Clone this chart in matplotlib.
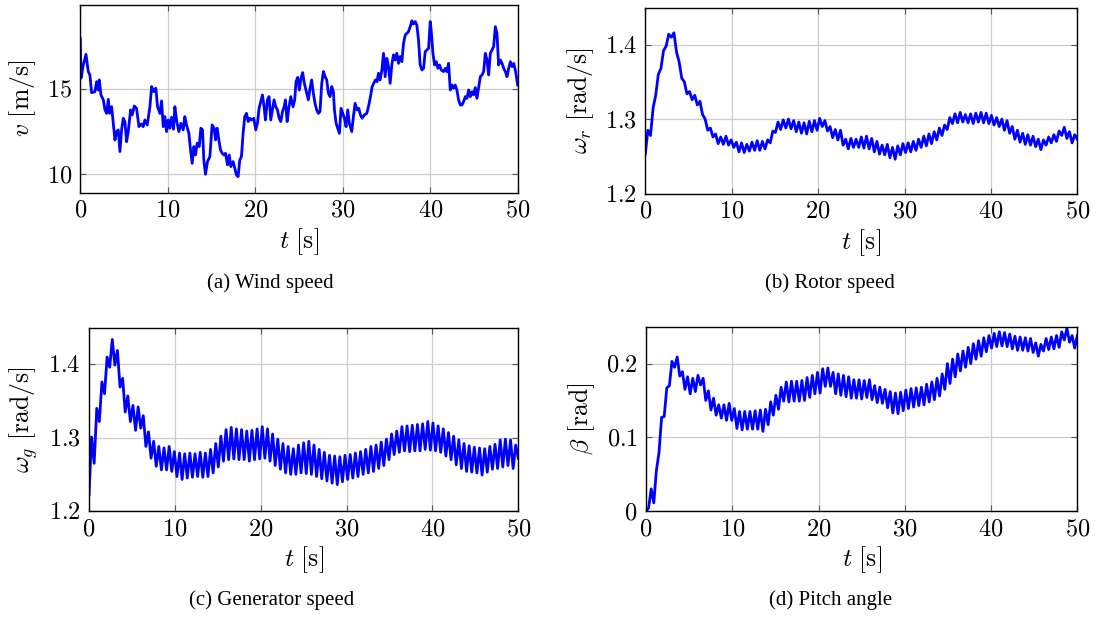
import numpy as np
import matplotlib
matplotlib.use('Agg')
import matplotlib.pyplot as plt
from matplotlib.ticker import FuncFormatter

plt.rcParams['mathtext.fontset'] = 'cm'
plt.rcParams['font.family'] = ['Liberation Serif', 'DejaVu Serif']

# ---- data ----
# wind speed (irregular time samples)
wind_t = [0, 0.08, 0.34, 0.65, 0.91, 1.10, 1.29, 1.67, 1.87, 2.06,
          2.17, 2.36, 2.63, 2.82, 3.01, 3.20, 3.35, 3.58, 3.77, 3.96,
          4.15, 4.34, 4.53, 4.72, 4.91, 5.10, 5.29, 5.48, 5.75, 5.94,
          6.17, 6.43, 6.70, 7.00, 7.19, 7.38, 7.65, 7.96, 8.15, 8.41,
          8.64, 8.83, 9.10, 9.29, 9.48, 9.67, 9.86, 10.05, 10.24, 10.43,
          10.66, 10.81, 11.00, 11.27, 11.50, 11.76, 11.95, 12.14, 12.41, 12.60,
          12.79, 12.98, 13.17, 13.36, 13.59, 13.78, 13.97, 14.12, 14.31, 14.54,
          14.81, 15.07, 15.30, 15.46, 15.65, 15.84, 16.03, 16.22, 16.41, 16.60,
          16.83, 17.02, 17.21, 17.47, 17.66, 17.85, 18.04, 18.23, 18.42, 18.61,
          18.80, 19.00, 19.19, 19.38, 19.57, 19.83, 20.06, 20.25, 20.44, 20.63,
          20.82, 21.01, 21.16, 21.39, 21.58, 21.77, 21.96, 22.15, 22.34, 22.54,
          22.73, 22.92, 23.11, 23.30, 23.45, 23.64, 23.83, 24.06, 24.32, 24.51,
          24.66, 24.85, 25.04, 25.23, 25.42, 25.61, 25.80, 26.07, 26.26, 26.45,
          26.64, 26.83, 27.02, 27.21, 27.40, 27.60, 27.79, 27.98, 28.17, 28.36,
          28.55, 28.74, 28.93, 29.05, 29.24, 29.43, 29.62, 29.81, 30.00, 30.19,
          30.38, 30.57, 30.76, 31.03, 31.22, 31.41, 31.64, 31.83, 32.02, 32.21,
          32.48, 32.75, 32.94, 33.17, 33.36, 33.55, 33.74, 33.93, 34.08, 34.27,
          34.47, 34.66, 34.85, 35.04, 35.23, 35.42, 35.61, 35.80, 35.99, 36.18,
          36.37, 36.56, 36.76, 36.95, 37.14, 37.33, 37.52, 37.71, 37.90, 38.09,
          38.28, 38.47, 38.66, 38.85, 39.05, 39.24, 39.43, 39.62, 39.81, 40.00,
          40.11, 40.31, 40.50, 40.69, 40.88, 41.07, 41.26, 41.53, 41.72, 41.91,
          42.10, 42.29, 42.48, 42.67, 42.86, 43.05, 43.24, 43.44, 43.63, 43.82,
          44.01, 44.20, 44.39, 44.58, 44.77, 44.96, 45.15, 45.34, 45.53, 45.73,
          45.92, 46.11, 46.30, 46.49, 46.68, 46.87, 47.06, 47.25, 47.44, 47.63,
          47.82, 48.02, 48.21, 48.40, 48.59, 48.78, 48.97, 49.16, 49.35, 49.54,
          49.73, 50.0]
wind_v = [17.97, 15.63, 16.4, 17.03, 16.02, 15.82, 14.78, 14.84, 15.43, 14.94,
          15.53, 14.65, 14.36, 13.77, 13.57, 14.39, 13.57, 13.96, 12.99, 12.01,
          12.5, 12.6, 11.33, 12.6, 13.28, 13.09, 11.91, 12.5, 13.77, 13.48,
          14.0, 13.87, 12.79, 12.95, 12.79, 13.18, 12.89, 13.96, 15.14, 14.84,
          15.04, 13.96, 13.57, 14.3, 12.79, 13.38, 12.5, 13.18, 12.7, 13.34,
          12.64, 13.96, 13.18, 12.5, 12.99, 12.6, 13.38, 12.89, 12.4, 11.42,
          10.64, 11.62, 11.13, 11.82, 11.62, 12.7, 12.6, 10.84, 10.0, 10.74,
          11.03, 12.89, 12.7, 12.01, 12.7, 12.01, 11.42, 11.23, 11.13, 11.23,
          10.55, 11.13, 10.45, 10.74, 10.35, 9.96, 9.86, 10.84, 11.03, 12.4,
          13.38, 13.57, 13.09, 13.28, 13.18, 13.28, 12.6, 12.99, 13.87, 14.26,
          14.65, 13.96, 13.18, 14.36, 14.55, 13.18, 13.77, 14.36, 13.96, 13.77,
          13.28, 13.09, 13.67, 13.96, 14.36, 13.09, 13.87, 14.55, 13.96, 14.36,
          15.43, 15.68, 14.94, 15.63, 15.96, 15.33, 14.94, 14.36, 15.04, 15.53,
          14.75, 14.16, 13.77, 13.57, 13.67, 15.33, 16.02, 15.72, 15.53, 14.75,
          14.55, 15.14, 14.84, 13.77, 12.99, 12.7, 12.4, 13.87, 13.57, 13.28,
          12.79, 13.77, 12.99, 12.5, 13.38, 14.16, 13.77, 13.87, 13.48, 13.28,
          13.48, 13.57, 13.96, 14.55, 15.14, 15.33, 15.53, 15.43, 15.92, 15.53,
          16.11, 17.09, 15.72, 16.8, 16.31, 15.33, 16.41, 17.0, 16.7, 17.09,
          16.5, 16.9, 16.6, 17.68, 18.16, 18.26, 18.36, 18.65, 19.0, 18.81,
          18.95, 18.75, 17.87, 16.41, 16.11, 16.21, 17.19, 17.29, 17.38, 18.95,
          18.46, 17.09, 16.41, 16.6, 16.21, 16.41, 16.11, 16.02, 16.21, 16.02,
          16.5, 14.94, 15.23, 15.04, 15.23, 14.94, 14.36, 14.06, 14.06, 14.26,
          14.55, 14.45, 14.94, 14.55, 14.84, 14.65, 15.08, 14.45, 15.08, 15.72,
          15.82, 16.02, 17.09, 16.7, 15.82, 17.09, 17.29, 17.48, 18.65, 18.26,
          16.41, 16.7, 16.5, 16.21, 16.02, 15.72, 16.21, 16.6, 16.31, 16.5,
          16.11, 15.23]

# rotor speed, generator speed and pitch: one value every ~0.3 s, 0..50 s
rotor = [1.253, 1.285, 1.278, 1.315, 1.332, 1.36, 1.368, 1.392, 1.398, 1.414,
         1.41, 1.416, 1.39, 1.377, 1.355, 1.35, 1.334, 1.337, 1.326, 1.332,
         1.319, 1.324, 1.306, 1.3, 1.285, 1.288, 1.276, 1.28, 1.267, 1.276,
         1.266, 1.277, 1.265, 1.272, 1.262, 1.269, 1.256, 1.268, 1.255, 1.266,
         1.257, 1.269, 1.258, 1.271, 1.258, 1.27, 1.26, 1.272, 1.268, 1.284,
         1.282, 1.296, 1.286, 1.299, 1.288, 1.3, 1.287, 1.298, 1.283, 1.296,
         1.281, 1.295, 1.28, 1.297, 1.283, 1.298, 1.285, 1.301, 1.29, 1.298,
         1.284, 1.29, 1.275, 1.286, 1.272, 1.285, 1.265, 1.273, 1.26, 1.274,
         1.262, 1.273, 1.262, 1.276, 1.261, 1.277, 1.26, 1.274, 1.256, 1.27,
         1.253, 1.265, 1.252, 1.266, 1.248, 1.262, 1.246, 1.264, 1.252, 1.267,
         1.255, 1.268, 1.256, 1.27, 1.258, 1.273, 1.262, 1.277, 1.264, 1.28,
         1.267, 1.283, 1.272, 1.288, 1.278, 1.292, 1.286, 1.302, 1.294, 1.307,
         1.295, 1.309, 1.296, 1.306, 1.295, 1.307, 1.294, 1.308, 1.296, 1.309,
         1.295, 1.308, 1.294, 1.305, 1.292, 1.302, 1.29, 1.3, 1.285, 1.298,
         1.281, 1.29, 1.273, 1.285, 1.269, 1.281, 1.266, 1.279, 1.265, 1.277,
         1.263, 1.273, 1.259, 1.272, 1.265, 1.276, 1.268, 1.279, 1.27, 1.284,
         1.278, 1.289, 1.274, 1.283, 1.268, 1.279, 1.273]

generator = [1.222, 1.301, 1.265, 1.34, 1.322, 1.376, 1.36, 1.41, 1.396, 1.434,
             1.399, 1.419, 1.369, 1.381, 1.335, 1.357, 1.322, 1.344, 1.31, 1.342,
             1.313, 1.33, 1.288, 1.308, 1.272, 1.295, 1.261, 1.288, 1.256, 1.286,
             1.256, 1.288, 1.254, 1.281, 1.247, 1.279, 1.243, 1.278, 1.245, 1.279,
             1.246, 1.278, 1.247, 1.28, 1.246, 1.279, 1.247, 1.284, 1.252, 1.292,
             1.26, 1.302, 1.268, 1.311, 1.27, 1.314, 1.271, 1.312, 1.27, 1.311,
             1.27, 1.309, 1.268, 1.31, 1.27, 1.312, 1.271, 1.315, 1.272, 1.312,
             1.268, 1.305, 1.262, 1.298, 1.257, 1.292, 1.252, 1.288, 1.25, 1.285,
             1.25, 1.29, 1.252, 1.293, 1.251, 1.295, 1.25, 1.29, 1.247, 1.284,
             1.244, 1.28, 1.241, 1.276, 1.238, 1.275, 1.236, 1.274, 1.24, 1.276,
             1.243, 1.277, 1.245, 1.279, 1.247, 1.281, 1.25, 1.284, 1.252, 1.288,
             1.254, 1.29, 1.258, 1.294, 1.262, 1.298, 1.27, 1.305, 1.277, 1.309,
             1.28, 1.315, 1.282, 1.316, 1.281, 1.317, 1.282, 1.318, 1.282, 1.319,
             1.284, 1.322, 1.283, 1.32, 1.282, 1.316, 1.28, 1.312, 1.275, 1.307,
             1.27, 1.302, 1.263, 1.297, 1.258, 1.292, 1.254, 1.289, 1.253, 1.287,
             1.252, 1.286, 1.249, 1.285, 1.253, 1.288, 1.257, 1.291, 1.258, 1.297,
             1.26, 1.298, 1.262, 1.297, 1.258, 1.29, 1.272]

pitch = [0.0, 0.004, 0.03, 0.011, 0.055, 0.079, 0.127, 0.128, 0.167, 0.17,
         0.203, 0.195, 0.209, 0.183, 0.189, 0.165, 0.182, 0.159, 0.18, 0.162,
         0.184, 0.171, 0.18, 0.15, 0.163, 0.137, 0.153, 0.13, 0.144, 0.126,
         0.144, 0.123, 0.146, 0.123, 0.139, 0.112, 0.135, 0.11, 0.135, 0.111,
         0.135, 0.111, 0.136, 0.111, 0.137, 0.108, 0.138, 0.117, 0.148, 0.13,
         0.157, 0.138, 0.168, 0.149, 0.175, 0.148, 0.176, 0.149, 0.176, 0.149,
         0.177, 0.15, 0.181, 0.154, 0.184, 0.159, 0.188, 0.16, 0.193, 0.169,
         0.194, 0.169, 0.188, 0.159, 0.186, 0.157, 0.184, 0.155, 0.182, 0.153,
         0.178, 0.153, 0.178, 0.152, 0.177, 0.154, 0.178, 0.151, 0.17, 0.147,
         0.168, 0.146, 0.165, 0.14, 0.162, 0.133, 0.16, 0.132, 0.161, 0.136,
         0.164, 0.139, 0.166, 0.141, 0.167, 0.143, 0.168, 0.144, 0.172, 0.148,
         0.175, 0.151, 0.18, 0.156, 0.186, 0.165, 0.2, 0.173, 0.206, 0.182,
         0.213, 0.19, 0.217, 0.195, 0.222, 0.2, 0.227, 0.206, 0.231, 0.21,
         0.235, 0.216, 0.238, 0.221, 0.241, 0.223, 0.243, 0.224, 0.242, 0.223,
         0.24, 0.22, 0.237, 0.218, 0.236, 0.218, 0.235, 0.217, 0.234, 0.215,
         0.228, 0.21, 0.226, 0.217, 0.234, 0.219, 0.236, 0.22, 0.238, 0.222,
         0.243, 0.232, 0.248, 0.229, 0.238, 0.221, 0.238]

x_ticks = [0, 10, 20, 30, 40, 50]

fig = plt.figure(figsize=(10.96, 6.17), dpi=100)
W, H = 1096, 617


def px_rect(l, t, r, b):
    return [l / W, 1 - b / H, (r - l) / W, (b - t) / H]


panels = [
    (px_rect(80.3, 4.7, 517.7, 192.5), wind_t, wind_v, (8.93, 19.94), [10, 15],
     r'$v\ [\mathrm{m/s}]$', '(a) Wind speed', (270, 283)),
    (px_rect(645.3, 7.5, 1077.3, 193.5), None, rotor, (1.2, 1.45), [1.2, 1.3, 1.4],
     r'$\omega_r\ [\mathrm{rad/s}]$', '(b) Rotor speed', (830, 283)),
    (px_rect(89, 327.7, 518.3, 511), None, generator, (1.2, 1.45), [1.2, 1.3, 1.4],
     r'$\omega_g\ [\mathrm{rad/s}]$', '(c) Generator speed', (272, 600)),
    (px_rect(646, 326.7, 1077.3, 511), None, pitch, (0, 0.25), [0, 0.1, 0.2],
     r'$\beta\ [\mathrm{rad}]$', '(d) Pitch angle', (831, 600)),
]

fmt = FuncFormatter(lambda v, p: f'${v:g}$')

for rect, t, y, ylim, yticks, ylabel, caption, cxy in panels:
    ax = fig.add_axes(rect)
    if t is None:
        t = np.linspace(0, 50, len(y))
    ax.plot(t, y, color='#0000ff', lw=2.0)
    ax.set_xlim(0, 50)
    ax.set_ylim(*ylim)
    ax.set_xticks(x_ticks)
    ax.set_yticks(yticks)
    ax.xaxis.set_major_formatter(fmt)
    ax.yaxis.set_major_formatter(fmt)
    ax.grid(True, color='#cccccc', lw=0.9)
    ax.set_axisbelow(True)
    ax.tick_params(direction='in', length=4, width=0.8, color='#555555',
                   top=True, right=True, labelsize=17.5, pad=6)
    for s in ax.spines.values():
        s.set_linewidth(1.0)
    ax.set_xlabel(r'$t\ [\mathrm{s}]$', fontsize=18.5, labelpad=3)
    ax.set_ylabel(ylabel, fontsize=18.5, labelpad=6)
    fig.text(cxy[0] / W, 1 - cxy[1] / H, caption, ha='center', va='center', fontsize=15)

fig.savefig('out.png', dpi=100)
